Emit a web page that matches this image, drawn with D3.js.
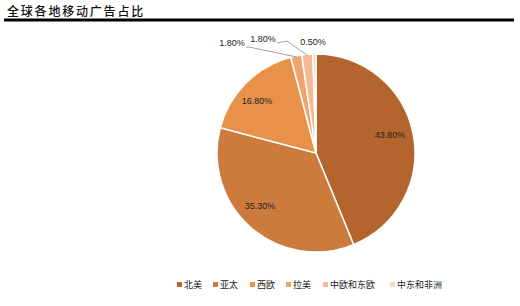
<!DOCTYPE html>
<meta charset="utf-8">
<style>
body { margin: 0; background: #fff; }
svg { font-family: "Liberation Sans", "Noto Sans CJK SC", sans-serif; }
</style>
<body>
<script src="https://d3js.org/d3.v7.min.js"></script>
<script>
// regions and their share of global mobile ad spend (%)
var regions = ["北美", "亚太", "西欧", "拉美", "中欧和东欧", "中东和非洲"];
var shares = [43.8, 35.3, 16.8, 1.8, 1.8, 0.5];
var colors = ["#b4652e", "#cd7b3c", "#e8914a", "#efa470", "#f5b995", "#fad5c0"];

var width = 520, height = 306;
var cx = 316, cy = 153, radius = 99;

var svg = d3.select("body").append("svg")
  .attr("width", width)
  .attr("height", height);

// title + thick rule
svg.append("text")
  .attr("x", 7)
  .attr("y", 16)
  .style("font-family", "'Noto Sans CJK SC', sans-serif")
  .style("font-size", "12px")
  .style("font-weight", "500")
  .style("letter-spacing", "1.8px")
  .style("fill", "#111")
  .text("全球各地移动广告占比");

svg.append("rect")
  .attr("x", 4).attr("y", 18.5)
  .attr("width", 510).attr("height", 3)
  .style("fill", "#000");

var data = regions.map(function(r, i) { return {name: r, value: shares[i], color: colors[i]}; });

var pie = d3.pie().sort(null).value(function(d) { return d.value; });
var arc = d3.arc().innerRadius(0).outerRadius(radius);
var arcs = pie(data);

var g = svg.append("g").attr("transform", "translate(" + cx + "," + cy + ")");

g.selectAll("path")
  .data(arcs)
  .enter().append("path")
    .attr("d", arc)
    .style("fill", function(d) { return d.data.color; })
    .style("stroke", "#fff")
    .style("stroke-width", 1.5);

// label placements (offset from center), small slices get leader lines
var labelPos = [
  [74, -18], [-56, 53], [-59, -52], [-84, -110], [-53, -114], [-3, -111]
];

g.selectAll("text.lbl")
  .data(arcs)
  .enter().append("text")
    .attr("class", "lbl")
    .attr("x", function(d, i) { return labelPos[i][0]; })
    .attr("y", function(d, i) { return labelPos[i][1]; })
    .attr("dy", "0.35em")
    .attr("text-anchor", "middle")
    .style("font-size", "9px")
    .style("fill", "#222")
    .text(function(d) { return d.data.value.toFixed(2) + "%"; });

// leader lines for the two 1.8% slices
var outer = d3.arc().innerRadius(radius * 0.99).outerRadius(radius * 0.99);
[3, 4].forEach(function(i) {
  var c = outer.centroid(arcs[i]);
  var lx = labelPos[i][0] + 14, ly = labelPos[i][1] + 4;
  var mid = i == 3 ? [lx + 3, ly] : [lx + 10, ly - 2];
  g.append("polyline")
    .attr("points", [[lx, ly], mid, c].map(function(p) { return p.join(","); }).join(" "))
    .style("fill", "none")
    .style("stroke", "#888")
    .style("stroke-width", 0.8);
});

// legend
var legendX = [177, 213, 250, 286, 323, 390];
var legend = svg.selectAll("g.legend")
  .data(data)
  .enter().append("g")
    .attr("class", "legend")
    .attr("transform", function(d, i) { return "translate(" + legendX[i] + ",285)"; });

legend.append("rect")
  .attr("x", 0).attr("y", -3)
  .attr("width", 5).attr("height", 5)
  .style("fill", function(d) { return d.color; });

legend.append("text")
  .attr("x", 7)
  .attr("y", 0)
  .attr("dy", "0.35em")
  .style("font-family", "'Noto Sans CJK SC', sans-serif")
  .style("font-size", "9px")
  .style("fill", "#222")
  .text(function(d) { return d.name; });
</script>
</body>
